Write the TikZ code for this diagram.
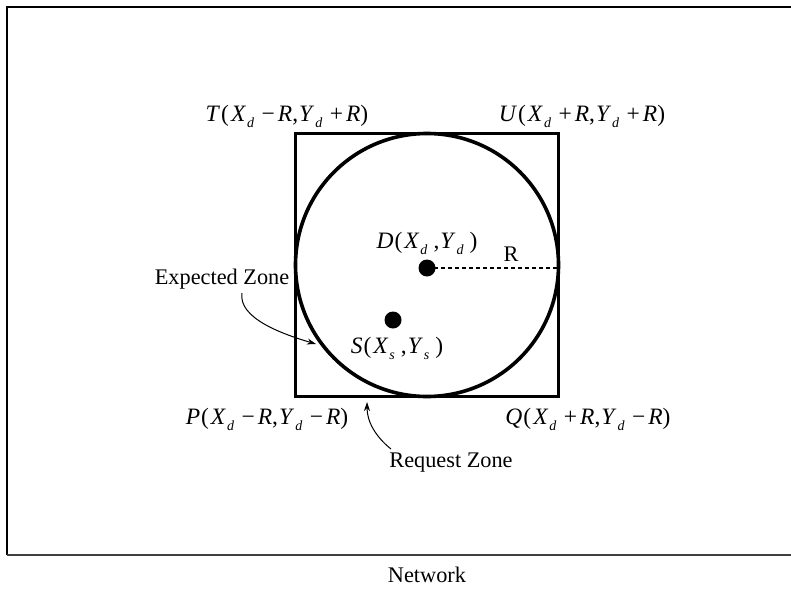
\documentclass[tikz,border=0pt]{standalone}
\usepackage{fontspec}
\setmainfont{Liberation Serif}
\usetikzlibrary{arrows.meta}
\newcommand{\sbx}[1]{\hspace{1pt}\raisebox{-0.55ex}{\fontsize{14}{14}\selectfont\textit{#1}}\hspace{6pt}}
\newcommand{\iv}[1]{\textit{#1}}
\newcommand{\mn}{\hspace{1.5pt}−\hspace{3pt}}
\newcommand{\pl}{\hspace{1.5pt}+\hspace{3pt}}
\newcommand{\cm}{,\hspace{1pt}}
\newcommand{\lp}{\hspace{1pt}(\hspace{2pt}}
\begin{document}
\begin{tikzpicture}[x=1pt,y=-1pt,
  txt/.style={inner sep=0pt,font=\fontsize{22.3}{26}\selectfont},
  mlab/.style={inner sep=0pt,font=\fontsize{23.5}{27}\selectfont},
  dot/.style={circle,fill=black,inner sep=0pt,minimum size=17pt},
  zone/.style={line width=3.6pt},
  pointer/.style={line width=1pt,-{Stealth[length=9pt,width=6pt]}}]
\useasboundingbox (0,0) rectangle (791,589);
% frame (right side beyond picture)
\draw[line width=2pt] (800,7) -- (7,7) -- (7,555);
\draw[line width=2pt,draw=black!75] (7,555) -- (800,555);
\node[txt] (net) at (427,575) {Network};
% request zone square and expected zone circle
\draw[zone] (295.5,133.5) rectangle (558.5,396.5);
\draw[zone] (427,265) circle[radius=131.5];
\coordinate (cr) at (558.5,268);
% points
\node[dot] (D) at (427,268) {};
\node[dot] (S) at (393,320) {};
\draw[dashed,line width=1.3pt,dash pattern=on 4pt off 3pt] (D.center) -- (cr);
\node[txt] (R) at (511,254) {R};
\node[mlab] (Dl) at (427,243) {\iv{D}\lp\iv{X}\sbx{d}\cm\iv{Y}\sbx{d})};
\node[mlab] (Sl) at (397,348) {\iv{S}\lp\iv{X}\sbx{s}\cm\iv{Y}\sbx{s})};
% corner labels
\node[mlab] (T) at (287,116) {\iv{T}\lp\iv{X}\sbx{d}\mn\iv{R}\cm\iv{Y}\sbx{d}\pl\iv{R})};
\node[mlab] (U) at (582,116) {\iv{U}\lp\iv{X}\sbx{d}\pl\iv{R}\cm\iv{Y}\sbx{d}\pl\iv{R})};
\node[mlab] (P) at (267,419) {\iv{P}\lp\iv{X}\sbx{d}\mn\iv{R}\cm\iv{Y}\sbx{d}\mn\iv{R})};
\node[mlab] (Q) at (588,419) {\iv{Q}\lp\iv{X}\sbx{d}\pl\iv{R}\cm\iv{Y}\sbx{d}\mn\iv{R})};
% zone labels with pointers
\node[txt] (EZ) at (222,279) {Expected Zone};
\node[txt] (RZ) at (451,463) {Request Zone};
\coordinate (ezt) at (316,344);
\coordinate (rzt) at (367,402);
\draw[pointer] (242,293) .. controls (238,318) and (282,334) .. (ezt);
\draw[pointer] (391,449) .. controls (376,437) and (367,422) .. (rzt);
\end{tikzpicture}
\end{document}
